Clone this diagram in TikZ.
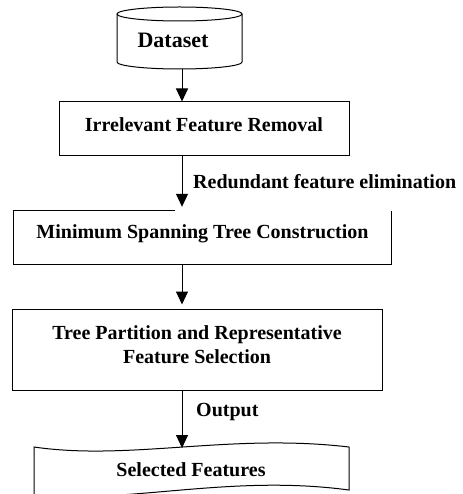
\documentclass[tikz,border=0pt]{standalone}
\usepackage{fontspec}
\setmainfont{Liberation Serif}
\usetikzlibrary{arrows.meta}

\begin{document}
\begin{tikzpicture}[x=1pt,y=-1pt,>={Triangle[length=13pt,width=12pt]}]
  \tikzset{
    lbl/.style={font=\fontsize{20}{24}\selectfont\bfseries,inner sep=0pt},
    stage/.style={lbl,draw=black,line width=1pt,align=center},
    bare/.style={lbl,align=center},
    edge/.style={draw=black,line width=1pt},
  }
  \useasboundingbox (0,0) rectangle (462,494);
  \coordinate (spine) at (182,0); \coordinate (gap) at (175,0);
  \coordinate (dsbottom) at (182,69);
  \coordinate (tl) at (34,447); \coordinate (tr) at (349,447);
  \coordinate (bl) at (34,495); \coordinate (br) at (349,490);
  \coordinate (tapetop) at (182,448);

  % database cylinder
  \draw[edge] (179.5,14) ellipse[x radius=62.5,y radius=7];
  \draw[edge] (117,14) -- (117,62) arc[start angle=180,end angle=0,x radius=62.5,y radius=7] -- (242,14);
  \node[bare,font=\fontsize{22}{26}\selectfont\bfseries] (dataset) at (173,40) {Dataset};

  \node[stage,minimum width=290pt,minimum height=54pt,text depth=8pt] (irrel) at (204,129) {Irrelevant Feature Removal};
  \node[bare,minimum width=377pt,minimum height=53pt,text depth=12pt] (mst) at (202.5,237.5) {Minimum Spanning Tree Construction};
  \draw[edge] (mst.north -| gap) -- (mst.north west) -- (mst.south west) -- (mst.south east) -- (mst.north east);
  \node[stage,minimum width=370pt,minimum height=81pt,text depth=9pt] (tree) at (197,349.5) {Tree Partition and Representative\\Feature Selection};

  % tape shaped output
  \draw[edge] (tl) .. controls (130,461) and (230,433) .. (tr) -- (br)
              .. controls (230,474) and (130,504) .. (bl) -- cycle;
  \node[bare] (selected) at (191,470) {Selected Features};

  \draw[edge,->] (dsbottom) -- (irrel.north -| spine);
  \draw[edge,->,shorten >=4pt] (irrel.south -| spine) -- (mst.north -| spine);
  \draw[edge,->,shorten >=4pt] (mst.south -| spine) -- (tree.north -| spine);
  \draw[edge,->] (tree.south -| spine) -- (tapetop);

  \node[lbl,anchor=west] (redund) at (193,182) {Redundant feature elimination};
  \node[lbl,anchor=west] (outlbl) at (196,412) {Output};
\end{tikzpicture}
\end{document}
